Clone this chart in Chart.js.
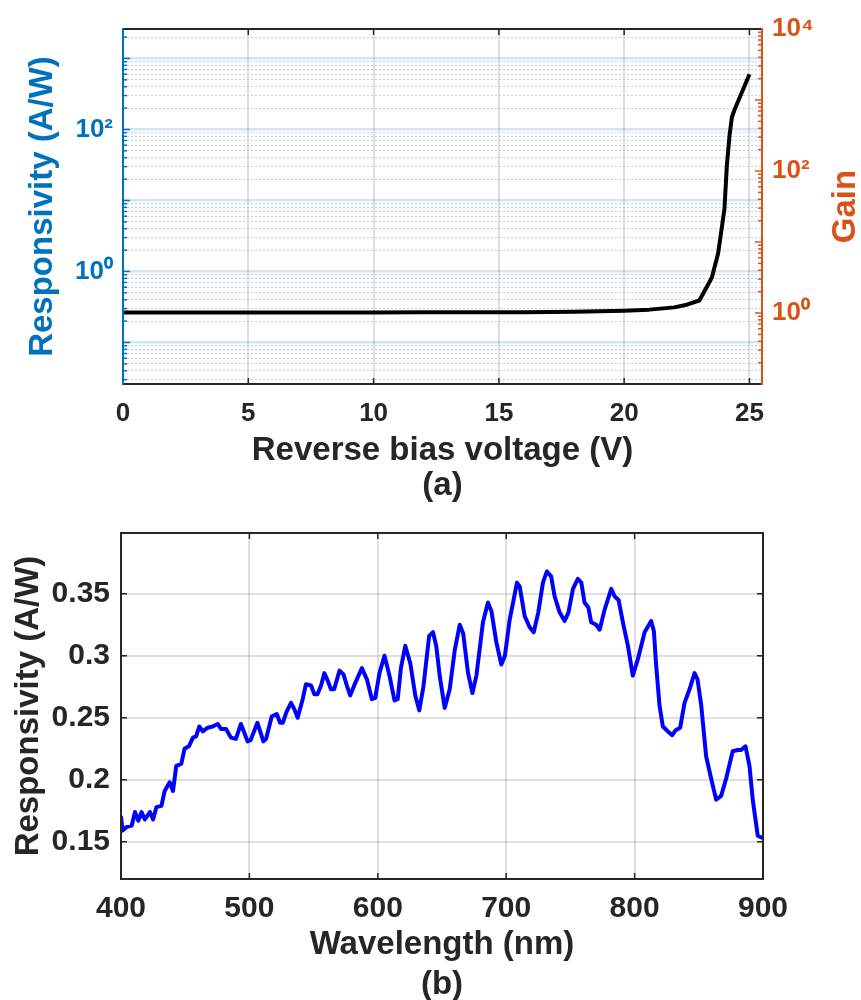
<!DOCTYPE html>
<html><head><meta charset="utf-8">
<script src="https://cdn.jsdelivr.net/npm/chart.js@4.4.1/dist/chart.umd.min.js"></script>
<style>
html,body{margin:0;padding:0;background:#fff;overflow:hidden;width:861px;height:1000px}
canvas{position:absolute;left:0}
#c1{top:0;z-index:0}
#c2{top:500px;z-index:1}
</style></head><body>
<canvas id="c1" width="861" height="520" style="width:861px;height:520px"></canvas>
<canvas id="c2" width="861" height="520" style="width:861px;height:520px"></canvas>
<script>
// ---------- (a) responsivity vs reverse bias ----------
const voltage = [0, 2, 4, 6, 8, 10, 12, 14, 16, 18, 20, 21, 22, 22.5, 23, 23.5, 23.75, 24, 24.1, 24.2, 24.3, 24.4, 25];
const responsivityBias = [0.265, 0.265, 0.265, 0.265, 0.265, 0.265, 0.266, 0.266, 0.267, 0.27, 0.28, 0.29, 0.312, 0.34, 0.39, 0.82, 1.8, 7.5, 32, 80, 150, 188, 600];
const voltTicks = [0, 5, 10, 15, 20, 25];
const respDecades = [1, 100];
const respDecadeLabels = ['10⁰', '10²'];
const gainDecades = [1, 100, 10000];
const gainDecadeLabels = ['10⁰', '10²', '10⁴'];
const respRange = [0.026, 2600];
const gainRange = [0.1, 10000];

// ---------- (b) spectral responsivity ----------
const wavelength = [400,401.3,404.4,408.3,410.9,413.5,416,418.6,422.5,425,427.6,431.5,434,437.9,440.5,443,447,449.5,452.9,456,458.5,461,463.7,467.5,471.4,475.3,477.9,481.8,485.6,489.5,493.4,498.6,501,506.2,510.9,513,517.4,521.3,523.9,526,529,532.4,535,537.6,541.5,544,548,550.6,553,555.8,558.4,561,563.5,566,570.2,573.3,575.9,578.5,582.4,587.6,591.5,595.4,598,601.3,605.2,609.1,613,615.5,618,621.4,625.3,629.2,632.3,635.5,640,643,645.5,648.2,652.1,656,660,663.8,666.5,670.3,673.7,676.8,681.9,685.8,688.5,692.3,696.2,699,702.7,708.4,710.5,714.4,718.3,721.4,725,728.6,731.7,735,737.7,741.6,745.5,748.5,752,755.8,758.5,761,764,766.2,770.1,772.8,776.6,781.8,784.4,787.5,790.9,794.8,798.6,802.5,807.8,812.9,815,816.8,819.4,822,825.9,829.3,832,835.5,838.9,842.8,846.7,849,851.9,855.7,859.6,863.5,867.4,871.3,876.4,880.3,883,886.4,889.5,892,895.9,899.8];
const responsivitySpectrum = [0.170,0.159,0.162,0.163,0.174,0.167,0.174,0.168,0.174,0.168,0.178,0.179,0.191,0.198,0.191,0.211,0.213,0.225,0.227,0.234,0.235,0.243,0.239,0.242,0.243,0.245,0.241,0.241,0.234,0.233,0.245,0.231,0.232,0.246,0.231,0.233,0.251,0.253,0.246,0.246,0.255,0.262,0.257,0.250,0.265,0.277,0.276,0.269,0.269,0.276,0.286,0.280,0.273,0.273,0.288,0.285,0.276,0.268,0.278,0.290,0.281,0.265,0.266,0.286,0.300,0.284,0.264,0.265,0.290,0.308,0.294,0.268,0.256,0.275,0.316,0.319,0.308,0.284,0.258,0.273,0.305,0.325,0.318,0.286,0.270,0.284,0.327,0.343,0.336,0.311,0.293,0.300,0.329,0.359,0.356,0.332,0.323,0.319,0.335,0.359,0.368,0.364,0.348,0.335,0.328,0.335,0.354,0.362,0.359,0.343,0.339,0.327,0.325,0.321,0.337,0.354,0.348,0.345,0.327,0.308,0.284,0.297,0.319,0.328,0.320,0.292,0.260,0.243,0.239,0.236,0.240,0.242,0.262,0.273,0.286,0.281,0.260,0.219,0.201,0.184,0.187,0.201,0.223,0.224,0.224,0.227,0.211,0.184,0.155,0.153];
const wlTicks = [400, 500, 600, 700, 800, 900];
const respTicks = [0.15, 0.2, 0.25, 0.3, 0.35];
const respSpecRange = [0.12, 0.399];

const FONT = '"Liberation Sans", Arial, Helvetica, sans-serif';
const TXT = '#262626', BLUE = '#0072BD', ORANGE = '#D95319';

function logTicks(min, max) {
  const out = [];
  for (let e = Math.floor(Math.log10(min)); e <= Math.ceil(Math.log10(max)); e++) {
    for (let m = 1; m <= 9; m++) {
      const v = +(m * Math.pow(10, e)).toPrecision(6);
      if (v >= min && v <= max) out.push(v);
    }
  }
  return out;
}
const isDecade = v => Math.abs(Math.log10(v) - Math.round(Math.log10(v))) < 1e-9;
const findLabel = (vals, labels, v) => { const i = vals.findIndex(d => Math.abs(d - v) < 1e-9 * d); return i >= 0 ? labels[i] : ''; };
const font = (size, lh) => ({ family: FONT, size: size, weight: 'bold', lineHeight: lh || 1.2 });

const framePlugin = {
  id: 'frame',
  afterDraw(chart, args, opts) {
    const { ctx, chartArea: a } = chart;
    ctx.save();
    ctx.lineCap = 'butt';
    (opts.sides || []).forEach(s => {
      const scale = chart.scales[s.scale];
      ctx.strokeStyle = s.color;
      ctx.lineWidth = 1.5;
      scale.ticks.forEach(t => {
        const major = s.isMajor ? s.isMajor(t.value) : true;
        const len = major ? s.major : s.minor;
        if (!len) return;
        const p = scale.getPixelForValue(t.value);
        ctx.beginPath();
        if (s.edge === 'left') { ctx.moveTo(a.left, p); ctx.lineTo(a.left + len, p); }
        else if (s.edge === 'right') { ctx.moveTo(a.right, p); ctx.lineTo(a.right - len, p); }
        else if (s.edge === 'top') { ctx.moveTo(p, a.top); ctx.lineTo(p, a.top + len); }
        else { ctx.moveTo(p, a.bottom); ctx.lineTo(p, a.bottom - len); }
        ctx.stroke();
      });
    });
    const b = opts.borders;
    if (b) {
      ctx.lineWidth = b.width;
      const seg = (c, x1, y1, x2, y2) => { ctx.strokeStyle = c; ctx.beginPath(); ctx.moveTo(x1, y1); ctx.lineTo(x2, y2); ctx.stroke(); };
      seg(b.top, a.left, a.top, a.right, a.top);
      seg(b.bottom, a.left, a.bottom, a.right, a.bottom);
      seg(b.left, a.left, a.top - 1, a.left, a.bottom + 1);
      seg(b.right, a.right, a.top - 1, a.right, a.bottom + 1);
    }
    const t = opts.sideTitle;
    if (t) {
      const s = chart.scales[t.scale];
      ctx.translate(s.right - t.offset, (a.top + a.bottom) / 2);
      ctx.rotate(-Math.PI / 2);
      ctx.font = 'bold ' + t.size + 'px ' + FONT;
      ctx.fillStyle = t.color;
      ctx.textAlign = 'center';
      ctx.textBaseline = 'middle';
      ctx.fillText(t.text, 0, 0);
    }
    ctx.restore();
  }
};

// ---------- chart (a) ----------
new Chart(document.getElementById('c1'), {
  type: 'line',
  data: {
    datasets: [{
      data: voltage.map((v, i) => ({ x: v, y: responsivityBias[i] })),
      borderColor: '#000000', borderWidth: 4, pointRadius: 0, tension: 0,
      borderJoinStyle: 'round', xAxisID: 'x', yAxisID: 'y'
    }]
  },
  options: {
    responsive: false, animation: false, devicePixelRatio: 1,
    layout: { padding: { top: 29, left: 0, right: 0, bottom: 0 } },
    plugins: {
      legend: { display: false }, tooltip: { enabled: false },
      frame: {
        sides: [
          { scale: 'y', edge: 'left', color: BLUE, major: 7, minor: 4, isMajor: isDecade },
          { scale: 'y2', edge: 'right', color: ORANGE, major: 7, minor: 4, isMajor: isDecade },
          { scale: 'x', edge: 'top', color: TXT, major: 6 },
          { scale: 'x', edge: 'bottom', color: TXT, major: 6 }
        ],
        borders: { width: 2, top: TXT, bottom: TXT, left: BLUE, right: ORANGE },
        sideTitle: { scale: 'y2', text: 'Gain', offset: 15, size: 33, color: ORANGE }
      }
    },
    scales: {
      x: {
        type: 'linear', position: 'bottom', min: 0, max: 25.5, bounds: 'data',
        afterBuildTicks: s => { s.ticks = voltTicks.map(v => ({ value: v })); },
        afterFit: s => { s.height = 136; },
        ticks: { autoSkip: false, maxRotation: 0, padding: 14.4, color: TXT, font: font(26), callback: v => String(v) },
        grid: { drawTicks: false, color: 'rgba(38,38,38,0.15)', lineWidth: 2 },
        border: { display: false },
        title: { display: true, text: ['Reverse bias voltage (V)', '(a)'], color: TXT, font: font(33, 1.06), padding: { top: 0, bottom: 16.5 } }
      },
      y: {
        type: 'logarithmic', position: 'left', min: respRange[0], max: respRange[1], bounds: 'data',
        afterBuildTicks: s => { s.ticks = logTicks(respRange[0], respRange[1]).map(v => ({ value: v })); },
        afterFit: s => { s.width = 123; },
        ticks: { autoSkip: false, padding: 10, color: BLUE, font: font(26), callback: v => findLabel(respDecades, respDecadeLabels, v) },
        grid: {
          drawTicks: false,
          color: c => (c.tick && isDecade(c.tick.value)) ? 'rgba(0,114,189,0.18)' : '#b6d4ec',
          lineWidth: c => (c.tick && isDecade(c.tick.value)) ? 2.5 : 1
        },
        border: { display: false, dash: c => (c.tick && !isDecade(c.tick.value)) ? [2, 2] : [] },
        title: { display: true, text: 'Responsivity (A/W)', color: BLUE, font: font(33), padding: { top: 23, bottom: 0 } }
      },
      y2: {
        type: 'logarithmic', position: 'right', min: gainRange[0], max: gainRange[1], bounds: 'data',
        afterBuildTicks: s => { s.ticks = logTicks(gainRange[0], gainRange[1]).map(v => ({ value: v })); },
        afterFit: s => { s.width = 99; },
        ticks: { autoSkip: false, padding: 10, color: ORANGE, font: font(26), callback: v => findLabel(gainDecades, gainDecadeLabels, v) },
        grid: { drawOnChartArea: false, drawTicks: false },
        border: { display: false },
        title: { display: false }
      }
    }
  },
  plugins: [framePlugin]
});

// ---------- chart (b) ----------
new Chart(document.getElementById('c2'), {
  type: 'line',
  data: {
    datasets: [{
      data: wavelength.map((w, i) => ({ x: w, y: responsivitySpectrum[i] })),
      borderColor: '#0000FF', borderWidth: 4, pointRadius: 0, tension: 0,
      borderJoinStyle: 'round', borderCapStyle: 'round'
    }]
  },
  options: {
    responsive: false, animation: false, devicePixelRatio: 1,
    layout: { padding: { top: 33, left: 0, right: 98, bottom: 0 } },
    plugins: {
      legend: { display: false }, tooltip: { enabled: false },
      frame: {
        sides: [
          { scale: 'y', edge: 'left', color: TXT, major: 6 },
          { scale: 'y', edge: 'right', color: TXT, major: 6 },
          { scale: 'x', edge: 'top', color: TXT, major: 6 },
          { scale: 'x', edge: 'bottom', color: TXT, major: 6 }
        ],
        borders: { width: 2, top: TXT, bottom: TXT, left: TXT, right: TXT }
      }
    },
    scales: {
      x: {
        type: 'linear', position: 'bottom', min: 400, max: 900, bounds: 'data',
        afterBuildTicks: s => { s.ticks = wlTicks.map(v => ({ value: v })); },
        afterFit: s => { s.height = 141; },
        ticks: { autoSkip: false, maxRotation: 0, padding: 12, color: TXT, font: font(30), callback: v => String(v) },
        grid: { drawTicks: false, color: 'rgba(38,38,38,0.15)', lineWidth: 2 },
        border: { display: false },
        title: { display: true, text: ['Wavelength (nm)', '(b)'], color: TXT, font: font(33, 1.21), padding: { top: 0, bottom: 15 } }
      },
      y: {
        type: 'linear', position: 'left', min: respSpecRange[0], max: respSpecRange[1], bounds: 'data',
        afterBuildTicks: s => { s.ticks = respTicks.map(v => ({ value: v })); },
        afterFit: s => { s.width = 121; },
        ticks: { autoSkip: false, padding: 11, color: TXT, font: font(30), callback: v => String(+v.toFixed(2)) },
        grid: { drawTicks: false, color: 'rgba(38,38,38,0.15)', lineWidth: 2 },
        border: { display: false },
        title: { display: true, text: 'Responsivity (A/W)', color: TXT, font: font(33), padding: { top: 9, bottom: 0 } }
      }
    }
  },
  plugins: [framePlugin]
});
</script>
</body></html>
